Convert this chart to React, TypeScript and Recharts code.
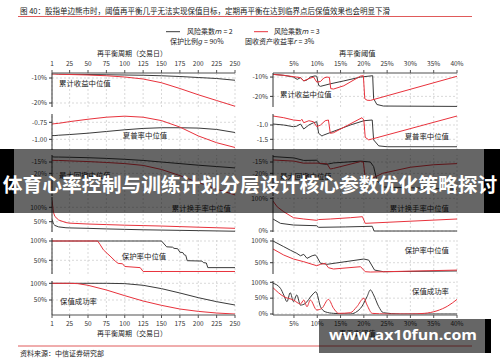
import React from 'react';
import { LineChart, Line, XAxis, YAxis, ReferenceLine } from 'recharts';

const FONT = '"Noto Sans CJK SC", "Noto Sans", sans-serif';
const BLACK = '#3a3a3a';
const RED = '#e8323c';

// ---------- tick values ----------
const periodTicks = [1, 25, 50, 75, 100, 125, 150, 175, 200, 225, 250];
const thresholdTicks = [5, 10, 15, 20, 25, 30, 35, 40];

// ---------- left column: rebalance period (trading days) ----------
const periodX = [1, 5, 10, 25, 50, 75, 100, 125, 150, 175, 200, 225, 250];
const retPeriodBlack = [-8.3, -8.3, -8.4, -8.5, -8.6, -8.7, -8.8, -8.9, -9.1, -9.4, -9.8, -10.2, -10.9];
const retPeriodRed = [-8.4, -8.4, -8.5, -8.6, -8.8, -9.1, -9.6, -10.4, -11.9, -14.2, -16.7, -19.0, -21.3];
const sharpePeriodBlack = [-0.945, -0.945, -0.94, -0.93, -0.91, -0.885, -0.86, -0.84, -0.83, -0.83, -0.835, -0.855, -0.9];
const sharpePeriodRed = [-0.775, -0.77, -0.765, -0.74, -0.705, -0.675, -0.66, -0.675, -0.725, -0.82, -0.95, -1.05, -1.12];
const ddPeriodBlack = [-12.7, -12.8, -12.8, -12.9, -13.1, -13.4, -13.8, -14.3, -15.0, -15.7, -16.4, -17.0, -17.6];
const ddPeriodRed = [-14.2, -14.3, -14.3, -14.5, -14.8, -15.2, -15.7, -16.5, -18.3, -21.0, -24.0, -27.0, -29.5];

const turnPeriodX = [1, 3, 5, 10, 20, 25, 50, 75, 100, 125, 150, 175, 200, 225, 250];
const turnPeriodBlack = [58, 42, 37, 32, 29, 28.5, 27, 25, 23.5, 22, 21, 20, 19, 18, 17];
const turnPeriodRed = [125, 82, 68, 56, 47, 45, 42, 40, 38, 36.5, 35, 33, 31, 29, 27];

const protPeriodBlack: [number, number][] = [
  [1, 100], [150, 100], [157, 85], [165, 84], [167, 81], [172, 80], [175, 71], [179, 70],
  [181, 64], [183, 63], [185, 49], [205, 48], [207, 44], [211, 43], [213, 31], [250, 31],
];
const protPeriodRed: [number, number][] = [
  [1, 100], [63, 100], [66, 92], [71, 77], [76, 68], [80, 61], [87, 48], [91, 42], [97, 41],
  [100, 34], [121, 31], [125, 21], [250, 21],
];

const succPeriodX = [1, 25, 36, 50, 75, 100, 125, 150, 175, 200, 225, 250];
const succPeriodBlack = [100, 100, 100, 100, 100, 99, 94, 84, 71, 57, 45, 35];
const succPeriodRed = [100, 100, 99, 94, 80, 63, 47, 34, 23, 16, 11, 8];

// ---------- right column: rebalance threshold (%) ----------
const retThrBlack: [number, number][] = [
  [0.5, -8.6], [2.8, -9.1], [4.9, -10], [5.7, -11.2], [6.4, -10.3], [7.1, -12], [7.8, -11.5],
  [8.5, -10], [9.5, -9.4], [9.9, -9.6], [10.3, -14.3], [10.7, -14.8], [12.8, -13.5], [15.7, -12],
  [19.3, -10], [21.9, -9.3], [22.1, -21.2], [22.8, -24.2], [24.2, -25], [40, -25.2],
];
const retThrRed: [number, number][] = [
  [0.5, -8.6], [2.8, -9.1], [4.9, -9.8], [6.4, -10.3], [7.1, -12], [8.2, -10.8], [9.2, -10],
  [9.9, -12.6], [10.7, -12.3], [11.4, -10.5], [12.1, -10], [12.6, -10.2], [12.9, -16], [13.5, -16.2],
  [15.7, -14.5], [19.3, -9.5], [19.9, -9.3], [20.2, -21.2], [20.7, -22], [21.4, -22.1], [40, -9.6],
];
const sharpeThrBlack: [number, number][] = [
  [0.5, -0.965], [2.8, -1.0], [4.9, -1.06], [5.6, -1.04], [6.4, -0.965], [7.1, -1.14], [8.2, -1.0],
  [9.2, -0.92], [9.9, -0.885], [10.3, -1.29], [11.0, -1.385], [11.4, -1.35], [17.1, -1.0],
  [20, -0.85], [21.8, -0.825], [22.1, -1.52], [23.2, -1.73], [25, -1.76], [40, -1.76],
];
const sharpeThrRed: [number, number][] = [
  [0.5, -0.685], [2.8, -0.745], [4.9, -0.825], [6.4, -0.85], [6.7, -0.8], [7.1, -0.92], [8.2, -0.85],
  [9.2, -0.885], [9.9, -1.06], [10.7, -1.0], [11.7, -0.85], [12.4, -0.825], [12.8, -1.29],
  [13.5, -1.27], [19.6, -0.745], [20, -0.825], [20.3, -1.43], [21.05, -1.52], [40, -0.685],
];
const ddThrBlack: [number, number][] = [
  [0.5, -12.6], [5, -13.2], [7.1, -14.3], [9.9, -14.2], [10.6, -15.7], [12, -16], [13.5, -15.4],
  [19.3, -14.6], [21.4, -15], [22.1, -17], [22.8, -23], [24, -26], [40, -27],
];
const ddThrRed: [number, number][] = [
  [0.5, -14.1], [5, -14.6], [7, -15.5], [10, -15.5], [12.1, -15.8], [12.8, -18.1], [13.5, -17.8],
  [19.3, -14.8], [19.9, -15], [20.3, -22], [21, -23], [24, -20], [30, -17.3], [35, -16.2], [40, -15.7],
];
const turnThrBlack: [number, number][] = [
  [0.5, 36.7], [2.1, 23.5], [4.9, 18.3], [9.9, 16.2], [10.3, 11.3], [16, 12.5], [21.8, 14.5],
  [22.2, 0], [40, 0],
];
const turnThrRed: [number, number][] = [
  [0.5, 91.7], [1.4, 74], [2.8, 59], [4.9, 40.7], [7.1, 36.7], [9.9, 32.7], [10.3, 35],
  [12.8, 36.7], [17.1, 40.7], [19.7, 43.8], [20.3, 23.5], [40, 36.7],
];
const protThrBlack: [number, number][] = [
  [0.5, 100], [2.8, 87], [4.2, 79], [5.6, 71.6], [6.4, 66], [7.1, 69.3], [7.8, 60], [8.9, 66],
  [9.6, 68], [9.9, 64], [10.7, 48.6], [12.1, 46.3], [20, 58.5], [21.05, 56], [22.3, 33],
  [24.2, 29.3], [40, 31],
];
const protThrRed: [number, number][] = [
  [0.5, 81.6], [2.8, 67.7], [4.9, 58.5], [7.1, 52.3], [9.9, 43], [10.7, 46.3], [11.7, 48.6],
  [12.4, 38.5], [13.5, 35.5], [19.3, 40.8], [20.3, 29.3], [21.4, 28.5], [40, 33],
];
const succThrBlack: [number, number][] = [
  [0.5, 97], [2.1, 81], [2.8, 60], [3.5, 39], [4.2, 67], [4.9, 39], [5.6, 60], [6.4, 28], [7.4, 33],
  [8.9, 60], [9.7, 70], [10.7, 23], [11.7, 7], [13.5, 2], [17.1, 0], [19.3, 18], [20.7, 55],
  [21.4, 76], [22.1, 60], [23.2, 23], [24.2, 4], [27.8, 0], [40, 0],
];
const succThrRed: [number, number][] = [
  [0.5, 83], [2.8, 55], [4.9, 44], [6.4, 31.5], [7.1, 44], [7.8, 23], [8.5, 44], [9.9, 12.6],
  [11, 18], [12.4, 46], [13.5, 18], [14.6, 2], [17.1, 4], [18.5, 23], [20, 49.5], [20.7, 28],
  [21.8, 2], [25, 0], [30, 0], [33, 2], [35.7, 10], [38, 25], [40, 46],
];

// ---------- helpers ----------
type Pt = { x: number; y: number };
const zip = (xs: number[], ys: number[]): Pt[] => xs.map((x, i) => ({ x, y: ys[i] }));
const pts = (arr: [number, number][]): Pt[] => arr.map(([x, y]) => ({ x, y }));

type Cfg = {
  left: number; top: number; width: number; height: number;
  xDomain: [number, number]; xTicks: number[]; xFmt: (v: number) => string;
  yDomain: [number, number]; yTicks: number[]; yFmt: (v: number) => string;
  black: Pt[]; red: Pt[]; axis: 'top' | 'bottom' | 'none'; curve?: 'linear' | 'monotone';
};

const pct = (v: number) => `${v}%`;
const plain = (v: number) => `${v}`;

const LEFT = { left: 52, width: 183, xDomain: [1, 250] as [number, number], xTicks: periodTicks, xFmt: plain };
const RIGHT = { left: 273, width: 184, xDomain: [0.5, 40] as [number, number], xTicks: thresholdTicks, xFmt: pct };

const panels: Cfg[] = [
  { ...LEFT, top: 73, height: 34, yDomain: [-21.6, -8], yTicks: [-10, -20], yFmt: pct,
    black: zip(periodX, retPeriodBlack), red: zip(periodX, retPeriodRed), axis: 'top' },
  { ...LEFT, top: 114, height: 36, yDomain: [-1.157, -0.628], yTicks: [-0.75, -1.0], yFmt: (v) => v.toFixed(2),
    black: zip(periodX, sharpePeriodBlack), red: zip(periodX, sharpePeriodRed), axis: 'none' },
  { ...LEFT, top: 155, height: 41, yDomain: [-30, -11.9], yTicks: [-15, -20], yFmt: pct,
    black: zip(periodX, ddPeriodBlack), red: zip(periodX, ddPeriodRed), axis: 'none' },
  { ...LEFT, top: 197, height: 35, yDomain: [14.3, 135.8], yTicks: [100, 50], yFmt: pct,
    black: zip(turnPeriodX, turnPeriodBlack), red: zip(turnPeriodX, turnPeriodRed), axis: 'none' },
  { ...LEFT, top: 238, height: 36, yDomain: [14.5, 107.8], yTicks: [100, 50], yFmt: pct,
    black: pts(protPeriodBlack), red: pts(protPeriodRed), axis: 'none' },
  { ...LEFT, top: 281, height: 34, yDomain: [5.1, 106.9], yTicks: [100, 50], yFmt: pct,
    black: zip(succPeriodX, succPeriodBlack), red: zip(succPeriodX, succPeriodRed), axis: 'bottom' },

  { ...RIGHT, top: 73, height: 34, yDomain: [-25.5, -7.9], yTicks: [-10, -20], yFmt: pct,
    black: pts(retThrBlack), red: pts(retThrRed), axis: 'top' },
  { ...RIGHT, top: 114, height: 36, yDomain: [-1.874, -0.615], yTicks: [-1.0, -1.5], yFmt: (v) => v.toFixed(1),
    black: pts(sharpeThrBlack), red: pts(sharpeThrRed), axis: 'none' },
  { ...RIGHT, top: 155, height: 41, yDomain: [-30, -11.9], yTicks: [-15, -20], yFmt: pct,
    black: pts(ddThrBlack), red: pts(ddThrRed), axis: 'none' },
  { ...RIGHT, top: 197, height: 35, yDomain: [-3, 104], yTicks: [100, 0], yFmt: pct,
    black: pts(turnThrBlack), red: pts(turnThrRed), axis: 'none' },
  { ...RIGHT, top: 238, height: 36, yDomain: [24, 106.9], yTicks: [100, 50], yFmt: pct,
    black: pts(protThrBlack), red: pts(protThrRed), axis: 'none' },
  { ...RIGHT, top: 281, height: 34, yDomain: [-3.2, 104.1], yTicks: [100, 50, 0], yFmt: pct,
    black: pts(succThrBlack), red: pts(succThrRed), axis: 'bottom', curve: 'monotone' },
];

const YW = 46;
const RM = 12;
const PAD = 5;
const AX = 16;
const tickStyle = { fontSize: 6.5, fill: '#333', fontFamily: FONT };

function Panel({ cfg }: { cfg: Cfg }) {
  const topPad = cfg.axis === 'top' ? AX : 0;
  const botPad = cfg.axis === 'bottom' ? AX : 0;
  return (
    <div style={{ position: 'absolute', left: cfg.left - YW, top: cfg.top - topPad - PAD }}>
      <LineChart
        width={cfg.width + YW + RM}
        height={cfg.height + topPad + botPad + 2 * PAD}
        margin={{ top: PAD, right: RM, bottom: PAD, left: 0 }}
      >
        <XAxis
          type="number"
          dataKey="x"
          domain={cfg.xDomain}
          ticks={cfg.xTicks}
          interval={0}
          allowDataOverflow
          hide={cfg.axis === 'none'}
          orientation={cfg.axis === 'top' ? 'top' : 'bottom'}
          height={AX}
          tickSize={3}
          tickMargin={cfg.axis === 'top' ? 4 : 3}
          tick={tickStyle}
          tickFormatter={cfg.xFmt}
          axisLine={{ stroke: '#8a8a8a', strokeWidth: 1.6 }}
          tickLine={{ stroke: '#555' }}
        />
        <YAxis
          type="number"
          domain={cfg.yDomain}
          ticks={cfg.yTicks}
          interval={0}
          allowDataOverflow
          width={YW}
          tickSize={3}
          tickMargin={2}
          tick={tickStyle}
          tickFormatter={cfg.yFmt}
          axisLine={{ stroke: '#333' }}
          tickLine={{ stroke: '#333' }}
        />
        {cfg.xTicks.map((v) => (
          <ReferenceLine key={'gx' + v} x={v} stroke="#cfcfcf" strokeDasharray="2 2" strokeWidth={0.8} />
        ))}
        {cfg.yTicks.map((v) => (
          <ReferenceLine key={'gy' + v} y={v} stroke="#cfcfcf" strokeDasharray="2 2" strokeWidth={0.8} />
        ))}
        <Line data={cfg.black} dataKey="y" type={cfg.curve || 'linear'} stroke={BLACK} strokeWidth={1}
          dot={false} isAnimationActive={false} />
        <Line data={cfg.red} dataKey="y" type={cfg.curve || 'linear'} stroke={RED} strokeWidth={1}
          dot={false} isAnimationActive={false} />
      </LineChart>
    </div>
  );
}

const T = (props: any) => <text fontFamily={FONT} fill="#222" {...props} />;
const IT = ({ children }: { children: string }) => (
  <tspan fontStyle="italic" fontFamily='"DejaVu Sans", sans-serif'>{children}</tspan>
);

export default function App() {
  return (
    <div style={{ position: 'absolute', left: 0, top: 0, width: 500, height: 362, background: '#fff', overflow: 'hidden' }}>
      {panels.map((p, i) => <Panel key={i} cfg={p} />)}
      <svg width={500} height={362} style={{ position: 'absolute', left: 0, top: 0, pointerEvents: 'none' }}>
        {/* title */}
        <T x={20} y={13.5} fontSize={7.5}>图 40：股指单边熊市时，阈值再平衡几乎无法实现保值目标，定期再平衡在达到临界点后保值效果也会明显下滑</T>
        <line x1={18} x2={472} y1={16.5} y2={16.5} stroke="#e05a5a" strokeWidth={1} />
        {/* legend */}
        <line x1={166} x2={180} y1={31.7} y2={31.7} stroke={BLACK} strokeWidth={1} />
        <T x={187} y={34.2} fontSize={7}>风险乘数<IT>m</IT> = 2</T>
        <line x1={254} x2={268} y1={31.7} y2={31.7} stroke={RED} strokeWidth={1} />
        <T x={274} y={34.2} fontSize={7}>风险乘数<IT>m</IT> = 3</T>
        <T x={170} y={43.5} fontSize={7}>保护比例<IT>g</IT> = 90%</T>
        <T x={245} y={43.5} fontSize={7}>固收资产收益率<IT>r</IT> = 3%</T>
        {/* axis titles */}
        <T x={97} y={56} fontSize={7}>再平衡周期（交易日）</T>
        <T x={339} y={56} fontSize={7.3}>再平衡阈值</T>
        <T x={97} y={336} fontSize={7}>再平衡周期（交易日）</T>
        <T x={339} y={336} fontSize={7.3}>再平衡阈值</T>
        {/* panel labels */}
        <T x={59} y={86} fontSize={7.4}>累计收益中位值</T>
        <T x={145} y={137.5} fontSize={7.4} textAnchor="middle">夏普率中位值</T>
        <T x={59} y={178} fontSize={7.4}>最大回撤中位值</T>
        <T x={231} y={210.5} fontSize={7.4} textAnchor="end">累计换手率中位值</T>
        <T x={144} y={258.5} fontSize={7.4} textAnchor="middle">保护率中位值</T>
        <T x={60} y={304} fontSize={7.4}>保值成功率</T>
        <T x={280} y={97} fontSize={7.4}>累计收益中位值</T>
        <T x={449} y={138.5} fontSize={7.4} textAnchor="end">夏普率中位值</T>
        <T x={280} y={179} fontSize={7.4}>最大回撤中位值</T>
        <T x={449} y={210.5} fontSize={7.4} textAnchor="end">累计换手率中位值</T>
        <T x={449} y={252.5} fontSize={7.4} textAnchor="end">保护率中位值</T>
        <T x={449} y={294} fontSize={7.4} textAnchor="end">保值成功率</T>
        {/* source */}
        <line x1={18} x2={472} y1={346} y2={346} stroke="#e05a5a" strokeWidth={1} />
        <T x={20} y={356} fontSize={7}>资料来源：中信证券研究部</T>
        {/* banner overlay */}
        <rect x={14} y={149} width={470} height={64} fill="rgba(0,0,0,0.6)" />
        <rect x={0} y={149} width={14} height={64} fill="#000" />
        <rect x={484} y={149} width={16} height={64} fill="#000" />
        <text x={250} y={191.5} fontSize={19.8} fontWeight="bold" fill="#fff" textAnchor="middle" fontFamily={FONT}>
          体育心率控制与训练计划分层设计核心参数优化策略探讨
        </text>
        {/* watermark */}
        <rect x={319} y={319} width={166} height={34} fill="rgba(0,0,0,0.6)" />
        <rect x={485} y={319} width={6} height={34} fill="#000" />
        <text x={403} y={340} fontSize={15} fontWeight="bold" fill="#fff" textAnchor="middle"
          fontFamily='"Open Sans", "Noto Sans", sans-serif' textLength={148} lengthAdjust="spacingAndGlyphs">
          www.ax10fun.com
        </text>
      </svg>
    </div>
  );
}
